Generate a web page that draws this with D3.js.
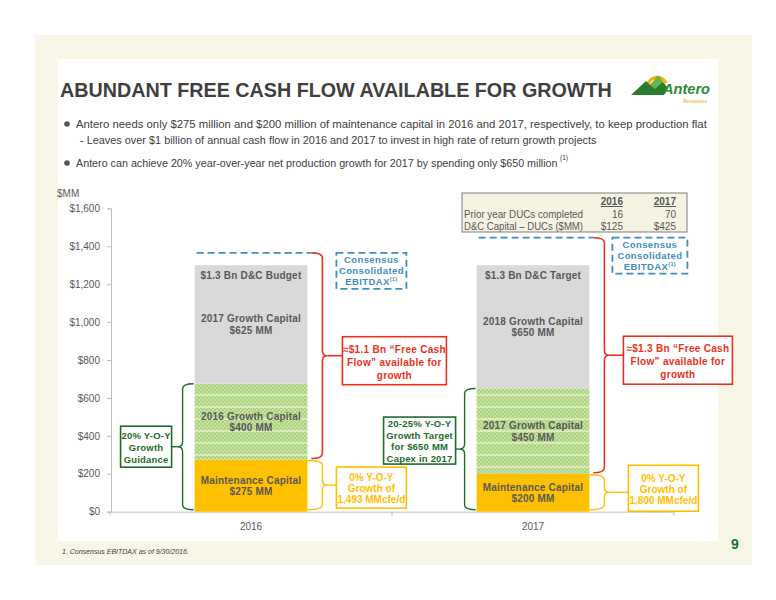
<!DOCTYPE html>
<html><head><meta charset="utf-8">
<script src="https://cdn.jsdelivr.net/npm/d3@7"></script>
<style>body{margin:0;background:#fff}svg{display:block}</style>
</head><body><svg id="c" width="776" height="600"></svg>
<script>
// ---------- DATA ----------
const years = ["2016", "2017"];
const maintenance = [275, 200];
const growthNow = [400, 450];
const growthNext = [625, 650];
const ebitdax = [1365, 1445];
const yTickValues = [0, 200, 400, 600, 800, 1000, 1200, 1400, 1600];
const budgetLabels = ["$1.3 Bn D&C Budget", "$1.3 Bn D&C Target"];
const nextLabels = [["2017 Growth Capital", "$625 MM"], ["2018 Growth Capital", "$650 MM"]];
const nowLabels = [["2016 Growth Capital", "$400 MM"], ["2017 Growth Capital", "$450  MM"]];
const maintLabels = [["Maintenance Capital", "$275 MM"], ["Maintenance Capital", "$200 MM"]];
const fcfLabels = [["≈$1.1 Bn “Free Cash", "Flow” available for", "growth"], ["≈$1.3 Bn “Free Cash", "Flow” available for", "growth"]];
const growthBoxLabels = [["20% Y-O-Y", "Growth", "Guidance"], ["20-25% Y-O-Y", "Growth Target", "for $650 MM", "Capex in 2017"]];
const flatLabels = [["0% Y-O-Y", "Growth of", "1,493 MMcfe/d"], ["0% Y-O-Y", "Growth of", "1,800 MMcfe/d"]];
const tableHeader = ["", "2016", "2017"];
const tableRows = [["Prior year DUCs completed", "16", "70"], ["D&C Capital – DUCs ($MM)", "$125", "$425"]];

// ---------- SETUP ----------
const svg = d3.select("#c");
const SANS = "'Liberation Sans', Arial, sans-serif";
const NARROW = "'Liberation Sans Narrow', 'Arial Narrow', 'Liberation Sans', Arial, sans-serif";
const GRAY_T = "#595959";
const ORANGE = "#FFC000", GRAY = "#D9D9D9", RED = "#E8321E", DKGREEN = "#1F6B2C", BLUE = "#3F8EC2";

// page panels
svg.append("rect").attr("x", 35).attr("y", 35).attr("width", 717).attr("height", 530).attr("fill", "#F8F6E6");
svg.append("rect").attr("x", 58).attr("y", 59).attr("width", 660).attr("height", 482).attr("fill", "#fff");

// fit a text to a target width by scaling its font size
function fit(t, target) {
  const fs = +t.attr("font-size");
  const len = t.node().getComputedTextLength();
  if (len > 0) t.attr("font-size", fs * target / len);
  return t;
}

// title
fit(svg.append("text").attr("x", 60).attr("y", 97).attr("font-family", SANS).attr("font-weight", "bold")
  .attr("font-size", 21).attr("fill", "#3F3F3F").text("ABUNDANT FREE CASH FLOW AVAILABLE FOR GROWTH"), 552);

// logo
const logo = svg.append("g");
logo.append("path").attr("d", "M648,85 A9.5,9.5 0 0,1 666,83").attr("fill", "none").attr("stroke", "#F2B400").attr("stroke-width", 3.4);
logo.append("path").attr("d", "M631,95 L646,81 L650,85 L658,76 L668,88 L664,95 Z").attr("fill", "#2A7A30");
logo.append("path").attr("d", "M650,85 L658,76 L663,82 L655,89 Z").attr("fill", "#67B548");
fit(logo.append("text").attr("x", 663).attr("y", 94).attr("font-family", SANS).attr("font-style", "italic").attr("font-weight", "bold")
  .attr("font-size", 16).attr("fill", "#2E8B34").text("Antero"), 47);
logo.append("text").attr("x", 683).attr("y", 103).attr("font-family", SANS).attr("font-style", "italic")
  .attr("font-size", 5).attr("fill", "#E2B000").text("Resources");

// bullets
const bullets = svg.append("g").attr("font-family", NARROW).attr("fill", "#404040");
[124, 163].forEach(yy => {
  bullets.append("circle").attr("cx", 67).attr("cy", yy).attr("r", 2.8).attr("fill", "#555");
});
fit(bullets.append("text").attr("x", 76).attr("y", 128).attr("font-size", 12.5)
  .text("Antero needs only $275 million and $200 million of maintenance capital in 2016 and 2017, respectively, to keep production flat"), 631);
fit(bullets.append("text").attr("x", 80).attr("y", 144).attr("font-size", 12.5)
  .text("- Leaves over $1 billion of annual cash flow in 2016 and 2017 to invest in high rate of return growth projects"), 517);
fit(bullets.append("text").attr("x", 76).attr("y", 167).attr("font-size", 12.5)
  .text("Antero can achieve 20% year-over-year net production growth for 2017 by spending only $650 million"), 482);
bullets.append("text").attr("x", 560).attr("y", 160).attr("font-size", 6.5).text("(1)");

// ---------- SCALES ----------
const y = d3.scaleLinear().domain([0, 1600]).range([511.7, 208.3]);
const x = d3.scaleBand().domain(years).range([110, 674]).paddingInner(0.6).paddingOuter(0.3);
const bw = x.bandwidth();

// hatch pattern
const defs = svg.append("defs");
const pat = defs.append("pattern").attr("id", "hatch").attr("patternUnits", "userSpaceOnUse").attr("width", 4).attr("height", 12);
pat.append("rect").attr("width", 4).attr("height", 12).attr("fill", "#C9E3A3");
for (let r = 0; r < 10; r += 2) {
  pat.append("rect").attr("x", (r / 2) % 2 === 0 ? 0 : 2).attr("y", r).attr("width", 2).attr("height", 1).attr("fill", "#A8D07F");
  pat.append("rect").attr("x", (r / 2) % 2 === 0 ? 2 : 0).attr("y", r + 1).attr("width", 2).attr("height", 1).attr("fill", "#A8D07F");
}
pat.append("rect").attr("x", 0).attr("y", 10).attr("width", 4).attr("height", 2).attr("fill", "#D6EBB9");

// $MM
svg.append("text").attr("x", 57).attr("y", 197).attr("font-family", SANS).attr("font-size", 10).attr("fill", GRAY_T).text("$MM");

// y axis
const yAxis = svg.append("g").attr("transform", "translate(111,0)")
  .call(d3.axisLeft(y).tickValues(yTickValues).tickSize(4).tickPadding(7).tickFormat(d => "$" + d3.format(",")(d)));
yAxis.selectAll("path,line").attr("stroke", "#BFBFBF");
yAxis.selectAll("text").attr("font-family", SANS).attr("font-size", 10).attr("fill", GRAY_T);

// x axis
const xAxis = svg.append("g").attr("transform", `translate(0,${y(0)})`)
  .call(d3.axisBottom(x).tickSize(0).tickPadding(11));
xAxis.select("path").attr("stroke", "#BFBFBF");
xAxis.selectAll("text").attr("font-family", SANS).attr("font-size", 10).attr("fill", GRAY_T);
const bounds = [x.range()[0], x(years[0]) - x.step() * x.paddingInner() / 2 + x.step(), x.range()[1]];
xAxis.selectAll(".bt").data(bounds).join("line").attr("class", "bt")
  .attr("x1", d => d).attr("x2", d => d).attr("y1", 0).attr("y2", 4).attr("stroke", "#BFBFBF");

// ---------- BARS ----------
const stackData = years.map((yr, i) => ({ yr, i, segs: [
  { y0: 0, y1: maintenance[i], fill: ORANGE, lab: maintLabels[i] },
  { y0: maintenance[i], y1: maintenance[i] + growthNow[i], fill: "url(#hatch)", lab: nowLabels[i] },
  { y0: maintenance[i] + growthNow[i], y1: maintenance[i] + growthNow[i] + growthNext[i], fill: GRAY, lab: nextLabels[i] }
] }));

const barG = svg.append("g");
stackData.forEach(d => {
  d.segs.forEach(s => {
    barG.append("rect").attr("x", x(d.yr)).attr("width", bw).attr("y", y(s.y1)).attr("height", y(s.y0) - y(s.y1)).attr("fill", s.fill);
  });
});

function lines(g, arr, cx, firstBase, lh, attrs) {
  const t = g.append("text").attr("text-anchor", "middle");
  Object.entries(attrs).forEach(([k, v]) => t.attr(k, v));
  arr.forEach((s, j) => t.append("tspan").attr("x", cx).attr("y", firstBase + j * lh).text(s));
  return t;
}
const barTxt = { "font-family": SANS, "font-weight": "bold", "font-size": 10, fill: GRAY_T, "letter-spacing": 0.2 };
stackData.forEach(d => {
  const cx = x(d.yr) + bw / 2;
  d.segs.forEach(s => {
    const c = (y(s.y0) + y(s.y1)) / 2;
    lines(barG, s.lab, cx, c - 2, 11.5, barTxt);
  });
  const top = y(d.segs[2].y1);
  lines(barG, [budgetLabels[d.i]], cx, top + 14, 11, barTxt);
});

// ---------- TABLE ----------
const tb = svg.append("g").attr("font-family", SANS).attr("font-size", 10).attr("fill", "#595959");
tb.append("rect").attr("x", 462).attr("y", 193).attr("width", 225).attr("height", 39).attr("fill", "#F5F3E1").attr("stroke", "#7F7F7F").attr("stroke-width", 1);
const colX = [464, 623, 676];
tableHeader.forEach((h, j) => {
  if (!h) return;
  tb.append("text").attr("x", colX[j]).attr("y", 205).attr("text-anchor", "end").attr("font-weight", "bold").attr("text-decoration", "underline").text(h);
});
tableRows.forEach((row, r) => {
  row.forEach((c, j) => {
    const t = tb.append("text").attr("x", colX[j]).attr("y", 217.5 + r * 12.5).attr("text-anchor", j === 0 ? "start" : "end").text(c);
    if (j === 0) t.attr("textLength", 119).attr("lengthAdjust", "spacingAndGlyphs");
  });
});

// ---------- ANNOTATIONS ----------
const ann = svg.append("g");
function brace(x0, y0, y1, xv, r) {
  const s = Math.sign(xv - x0), ym = (y0 + y1) / 2;
  return `M${x0},${y0} Q${xv},${y0} ${xv},${y0 + r} L${xv},${ym - r} Q${xv},${ym} ${xv + s * r},${ym} Q${xv},${ym} ${xv},${ym + r} L${xv},${y1 - r} Q${xv},${y1} ${x0},${y1}`;
}
const redBoxW = [104, 109], redOff = [35, 34];
const orangeOff = [29, 39], orangeDy = [-18, -27], orangeH = [41, 46];
const blueOff = [29, 23], blueW = [70, 75];
const greenBox = [{ dx: -74, w: 51, h: 41, dy: -20.5, fb: 12.5 }, { dx: -93, w: 72, h: 47, dy: -32, fb: 10 }];
const annTxt = (c, fs, ls) => ({ "font-family": SANS, "font-weight": "bold", "font-size": fs, fill: c, "letter-spacing": ls });

stackData.forEach(d => {
  const i = d.i, bx = x(d.yr), right = bx + bw;
  const yE = y(ebitdax[i]), yM = y(maintenance[i]), yG = y(maintenance[i] + growthNow[i]), y0 = y(0) - 2;
  // EBITDAX dashed line
  ann.append("line").attr("x1", bx + 2).attr("x2", right + 4).attr("y1", yE).attr("y2", yE)
    .attr("stroke", BLUE).attr("stroke-width", 1.8).attr("stroke-dasharray", "7,4");
  // blue dashed box
  const bbx = right + blueOff[i];
  ann.append("rect").attr("x", bbx).attr("y", yE).attr("width", blueW[i]).attr("height", 36).attr("fill", "#fff")
    .attr("stroke", BLUE).attr("stroke-width", 1.8).attr("stroke-dasharray", "7,4");
  const bt = lines(ann, ["Consensus", "Consolidated", "EBITDAX"], bbx + blueW[i] / 2, yE + 10, 11.3, annTxt(BLUE, 9.5, 0.4));
  bt.select("tspan:last-child").append("tspan").attr("font-size", 5.5).attr("dy", -4).text("(1)");

  // red brace
  const xvR = right + 15;
  ann.append("path").attr("d", brace(right + 4, yE, yM - 1, xvR, 5)).attr("fill", "none").attr("stroke", RED).attr("stroke-width", 1.6);
  const ymR = (yE + yM - 1) / 2;
  ann.append("line").attr("x1", xvR + 5).attr("x2", right + redOff[i]).attr("y1", ymR).attr("y2", ymR).attr("stroke", RED).attr("stroke-width", 1.6);
  const rbx = right + redOff[i];
  ann.append("rect").attr("x", rbx).attr("y", ymR - 19).attr("width", redBoxW[i]).attr("height", 48).attr("fill", "#fff").attr("stroke", RED).attr("stroke-width", 1.6);
  lines(ann, fcfLabels[i], rbx + redBoxW[i] / 2, ymR - 3, 13, annTxt(RED, 10, 0.3));

  // orange brace
  const xvO = right + 15;
  ann.append("path").attr("d", brace(right, yM + 1, y0, xvO, 5)).attr("fill", "none").attr("stroke", ORANGE).attr("stroke-width", 1.4);
  const ymO = (yM + 1 + y0) / 2;
  ann.append("line").attr("x1", xvO + 5).attr("x2", right + orangeOff[i]).attr("y1", ymO).attr("y2", ymO).attr("stroke", ORANGE).attr("stroke-width", 1.4);
  const obx = right + orangeOff[i], oby = ymO + orangeDy[i];
  ann.append("rect").attr("x", obx).attr("y", oby).attr("width", 70).attr("height", orangeH[i]).attr("fill", "#fff").attr("stroke", ORANGE).attr("stroke-width", 1.6);
  lines(ann, flatLabels[i], obx + 35, oby + orangeH[i] / 2 - 6.5, 11, annTxt(ORANGE, 10, 0));

  // green brace (left)
  const xvG = bx - 12;
  ann.append("path").attr("d", brace(bx - 1, yG, y0, xvG, 5)).attr("fill", "none").attr("stroke", DKGREEN).attr("stroke-width", 1.4);
  const ymG = (yG + y0) / 2;
  const gb = greenBox[i];
  const gbx = bx + gb.dx;
  ann.append("line").attr("x1", xvG - 5).attr("x2", gbx + gb.w).attr("y1", ymG).attr("y2", ymG).attr("stroke", DKGREEN).attr("stroke-width", 1.4);
  const gby = ymG + gb.dy;
  ann.append("rect").attr("x", gbx).attr("y", gby).attr("width", gb.w).attr("height", gb.h).attr("fill", "#fff").attr("stroke", DKGREEN).attr("stroke-width", 1.6);
  lines(ann, growthBoxLabels[i], gbx + gb.w / 2, gby + gb.fb, i === 0 ? 12 : 11.6, annTxt(DKGREEN, 9.5, 0.2));
});

// footnote and page number
svg.append("text").attr("x", 62).attr("y", 554).attr("font-family", SANS).attr("font-style", "italic").attr("font-size", 7).attr("fill", "#404040")
  .text("1. Consensus EBITDAX as of 9/30/2016.");
svg.append("text").attr("x", 735).attr("y", 549).attr("text-anchor", "middle").attr("font-family", SANS).attr("font-weight", "bold")
  .attr("font-size", 14).attr("fill", "#1E6B33").text("9");
</script></body></html>
